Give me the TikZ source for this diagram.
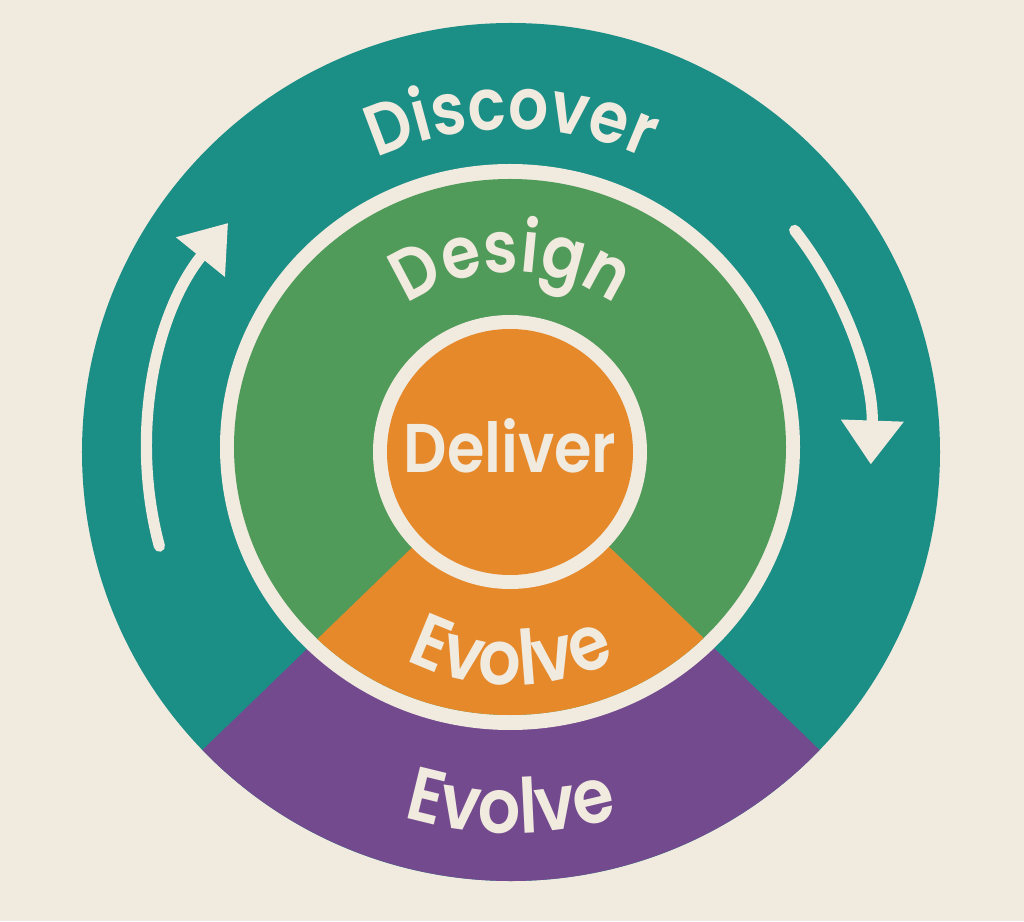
\documentclass[tikz,border=0pt]{standalone}
\usepackage{fontspec}
\setmainfont{Poppins}[FakeStretch=0.88,BoldFont={Poppins SemiBold}]
\usetikzlibrary{decorations.text,arrows.meta}

\definecolor{paper}{HTML}{F0EADF}
\definecolor{tealring}{HTML}{1B8E86}
\definecolor{greenring}{HTML}{519B5A}
\definecolor{orangecore}{HTML}{E6892B}
\definecolor{purplewedge}{HTML}{744A8F}

\newcommand\ringfont{\fontsize{51pt}{51pt}\selectfont\bfseries}
\newcommand\wedgefont{\fontsize{54pt}{54pt}\selectfont\bfseries}
\newcommand\corefont{\fontsize{49pt}{49pt}\selectfont\bfseries}

\begin{document}
\begin{tikzpicture}[x=0.25mm,y=0.25mm,
    ringtext/.style={decorate,decoration={text along path,text align=center,
        text color=paper,text={|\ringfont|#1}}},
    wedgetext/.style={decorate,decoration={text along path,text align=center,
        text color=paper,text={|\wedgefont|#1}}},
    loop arrow/.style={draw=paper,line width=2.8mm,line cap=round,
        -{Triangle[length=11mm,width=15mm]}}]

  % paper and rings
  \fill[paper] (-511,-469) rectangle (513,452);
  \fill[tealring] (0,0) circle[radius=429];
  \fill[purplewedge] (0,0) -- (-136:429)
    arc[start angle=-136,end angle=-44,radius=429] -- cycle;
  \fill[paper] (-1,5) ellipse[x radius=290,y radius=283];
  \fill[greenring] (-1,5) ellipse[x radius=276,y radius=268];
  \begin{scope}
    \clip (-1,5) ellipse[x radius=276,y radius=268];
    \fill[orangecore] (0,0) -- (-136:500) -- (-44:500) -- cycle;
  \end{scope}
  \fill[paper] (-1,0) circle[radius=137];
  \fill[orangecore] (-1,0) circle[radius=123];

  % cycle arrows
  \draw[loop arrow] (195:364) arc[start angle=195,end angle=141,radius=364];
  \draw[loop arrow] (38:360) arc[start angle=38,end angle=-2,radius=360];

  % labels
  \path[ringtext=Discover] (160:323) arc[start angle=160,end angle=20,radius=323];
  \path[ringtext=Design] (155:180) arc[start angle=155,end angle=25,radius=180];
  \path[wedgetext=Evolve] (205:233) arc[start angle=205,end angle=335,radius=233];
  \path[wedgetext=Evolve] (215:381) arc[start angle=215,end angle=325,radius=381];
  \node[text=paper,font=\corefont,anchor=base] (deliver) at (-1,-21) {Deliver};

\end{tikzpicture}
\end{document}
